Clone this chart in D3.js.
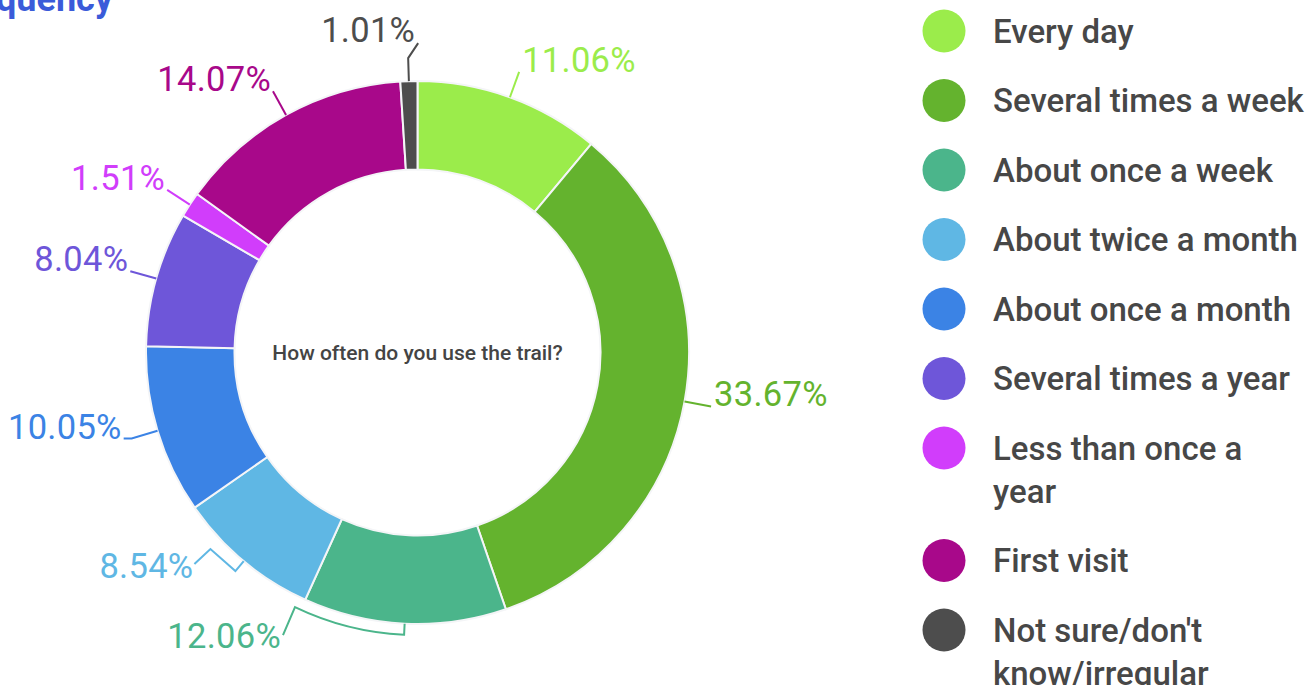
<!DOCTYPE html>
<html>
<head>
<meta charset="utf-8">
<script src="https://cdn.jsdelivr.net/npm/d3@7"></script>
<style>
  html, body { margin: 0; padding: 0; background: #fff; overflow: hidden; }
  svg { display: block; font-family: Roboto, "Noto Sans", sans-serif; }
</style>
</head>
<body>
<svg id="chart" width="1307" height="685"></svg>
<script>
// survey answers, clockwise from 12 o'clock
var categories = ['Every day', 'Several times a week', 'About once a week', 'About twice a month',
    'About once a month', 'Several times a year', 'Less than once a year', 'First visit',
    "Not sure/don't know/irregular"];
var values = [11.06, 33.67, 12.06, 8.54, 10.05, 8.04, 1.51, 14.07, 1.01];
var colors = ['#9bec4b', '#64b32e', '#4bb58b', '#5fb7e4', '#3b83e5', '#6e56d9', '#d13dfb', '#a8088a', '#4d4d4d'];
var centerTitle = 'How often do you use the trail?';

var svg = d3.select('#chart');
var cx = 417.5, cy = 352.5;
var outerR = 271.5, innerR = 183;

// clipped title in the corner
svg.append('text')
    .attr('x', 113)
    .attr('y', 11)
    .attr('text-anchor', 'end')
    .style('font-size', '36px')
    .style('font-weight', 700)
    .style('fill', '#3a5bd9')
    .text('Frequency');

var g = svg.append('g').attr('transform', 'translate(' + cx + ',' + cy + ')');

var pie = d3.pie().sort(null).value(function (d) { return d; });
var arcs = pie(values);
var arc = d3.arc().innerRadius(innerR).outerRadius(outerR);

g.selectAll('path.slice')
    .data(arcs)
    .enter()
    .append('path')
    .attr('class', 'slice')
    .attr('d', arc)
    .style('fill', function (d, i) { return colors[i]; })
    .style('stroke', '#f4f5f7')
    .style('stroke-width', 2);

g.append('text')
    .attr('x', 0)
    .attr('y', 0)
    .attr('dy', '0.35em')
    .attr('text-anchor', 'middle')
    .style('font-size', '21px')
    .style('font-weight', 500)
    .style('fill', '#444')
    .text(centerTitle);

// leader lines: default goes radially out, a few labels were pushed aside
function mid(d) { return (d.startAngle + d.endAngle) / 2; }
function leader(d, i) {
    var m = mid(d);
    var p0 = d3.pointRadial(m, outerR);
    var path = d3.path();
    path.moveTo(p0[0], p0[1]);
    var end, anchor, tx, ty;
    if (i == 8) {
        var p1 = d3.pointRadial(m, outerR + 23);
        path.lineTo(p1[0], p1[1]);
        end = [p1[0] + 10, p1[1] - 15];
        path.lineTo(end[0], end[1]);
        anchor = 'end'; tx = end[0] - 3; ty = end[1] - 1;
    }
    else if (i == 3) {
        var q1 = d3.pointRadial(m, outerR + 13);
        path.lineTo(q1[0], q1[1]);
        var q2 = [q1[0] - 25, q1[1] - 22];
        path.lineTo(q2[0], q2[1]);
        end = [q2[0] - 16, q2[1] + 15];
        path.lineTo(end[0], end[1]);
        anchor = 'end'; tx = end[0] - 1; ty = end[1] + 14;
    }
    else if (i == 2) {
        var r = outerR + 11;
        var a2 = 205.7 * Math.PI / 180;
        var s1 = d3.pointRadial(m, r);
        path.lineTo(s1[0], s1[1]);
        // svg arc angles are measured from 3 o'clock
        path.arc(0, 0, r, m - Math.PI / 2, a2 - Math.PI / 2, false);
        var s2 = d3.pointRadial(a2, r);
        end = [s2[0] - 12, s2[1] + 28];
        path.lineTo(end[0], end[1]);
        anchor = 'end'; tx = end[0] - 2; ty = end[1] + 13;
    }
    else {
        var e = d3.pointRadial(m, outerR + 27);
        path.lineTo(e[0], e[1]);
        end = e;
        if (i == 4) {
            end = [e[0] - 8, e[1]];
            path.lineTo(end[0], end[1]);
        }
        var right = e[0] > 0;
        anchor = right ? 'start' : 'end';
        tx = end[0] + (right ? 3 : -2);
        ty = end[1];
    }
    return { d: path.toString(), anchor: anchor, x: tx, y: ty };
}

var labels = arcs.map(leader);

g.selectAll('path.leader')
    .data(arcs)
    .enter()
    .append('path')
    .attr('class', 'leader')
    .attr('d', function (d, i) { return labels[i].d; })
    .style('fill', 'none')
    .style('stroke', function (d, i) { return colors[i]; })
    .style('stroke-width', 2);

g.selectAll('text.pct')
    .data(arcs)
    .enter()
    .append('text')
    .attr('class', 'pct')
    .attr('x', function (d, i) { return labels[i].x; })
    .attr('y', function (d, i) { return labels[i].y; })
    .attr('text-anchor', function (d, i) { return labels[i].anchor; })
    .style('font-size', '34.5px')
    .style('letter-spacing', '0.3px')
    .style('fill', function (d, i) { return colors[i]; })
    .text(function (d) { return d.data.toFixed(2) + '%'; });

// legend
var legendX = 944, textX = 993, maxW = 315;
var rowStep = 69.5, lineH = 43;
var legendFont = '33px';
var legend = svg.append('g');
var y = 31;
function textWidth(s) {
    var probe = legend.append('text')
        .style('font-size', legendFont)
        .style('font-weight', 500)
        .text(s);
    var w = probe.node().getComputedTextLength();
    probe.remove();
    return w;
}
categories.forEach(function (name, i) {
    legend.append('circle')
        .attr('cx', legendX)
        .attr('cy', y)
        .attr('r', 21.5)
        .style('fill', colors[i]);
    var t = legend.append('text')
        .attr('x', textX)
        .attr('y', y)
        .style('font-size', legendFont)
        .style('font-weight', 500)
        .style('fill', '#474747');
    // word wrap to legend width
    var words = name.split(' ');
    var lines = [];
    var cur = '';
    words.forEach(function (w) {
        var test = cur ? cur + ' ' + w : w;
        if (textWidth(test) > maxW && cur) {
            lines.push(cur);
            cur = w;
        }
        else {
            cur = test;
        }
    });
    lines.push(cur);
    // long token without spaces: break after a slash
    var out = [];
    lines.forEach(function (ln) {
        if (textWidth(ln) > maxW && ln.indexOf('/') > 0) {
            var parts = ln.split('/');
            var acc = '';
            parts.forEach(function (p, k) {
                var piece = p + (k < parts.length - 1 ? '/' : '');
                if (acc && textWidth(acc + piece) > maxW) {
                    out.push(acc);
                    acc = piece;
                }
                else {
                    acc += piece;
                }
            });
            out.push(acc);
        }
        else {
            out.push(ln);
        }
    });
    lines = out;
    lines.forEach(function (ln, k) {
        t.append('tspan')
            .attr('x', textX)
            .attr('dy', k == 0 ? '0.35em' : lineH)
            .text(ln);
    });
    y += rowStep + (lines.length - 1) * lineH;
});
</script>
</body>
</html>
